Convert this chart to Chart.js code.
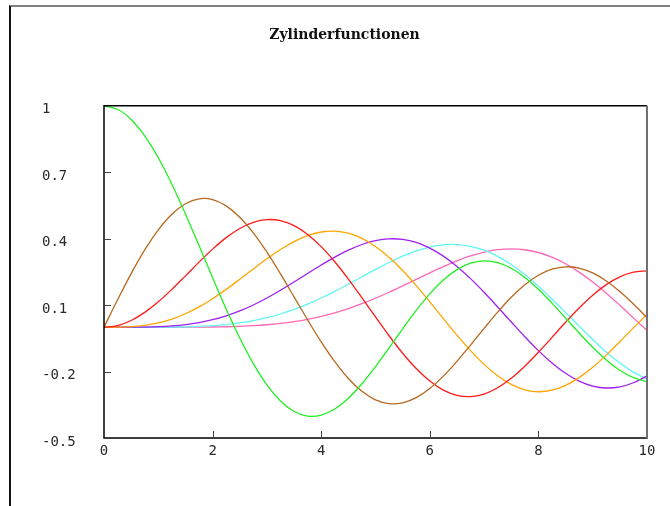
<!DOCTYPE html>
<html>
<head>
<meta charset="utf-8">
<script src="https://cdn.jsdelivr.net/npm/chart.js@4/dist/chart.umd.min.js"></script>
<style>
  html, body { margin: 0; padding: 0; background: #fff; }
  #wrap { position: relative; width: 670px; height: 506px; }
  #frame {
    position: absolute; left: 9px; top: 5px; right: 0; bottom: 0;
    border-top: 2px solid #808080; border-left: 2px solid #111;
    pointer-events: none;
  }
</style>
</head>
<body>
<div id="wrap">
  <canvas id="myChart" width="670" height="506"></canvas>
  <div id="frame"></div>
</div>
<script>
// x positions (step 0.25)
const xs = [0, 0.25, 0.5, 0.75, 1, 1.25, 1.5, 1.75, 2, 2.25, 2.5, 2.75, 3, 3.25, 3.5, 3.75, 4, 4.25, 4.5, 4.75, 5,
  5.25, 5.5, 5.75, 6, 6.25, 6.5, 6.75, 7, 7.25, 7.5, 7.75, 8, 8.25, 8.5, 8.75, 9, 9.25, 9.5, 9.75, 10];

// one series per cylinder function, order 0..6
const j0 = [1.0, 0.9844, 0.9385, 0.8642, 0.7652, 0.6459, 0.5118, 0.3690, 0.2239, 0.0828, -0.0484, -0.1641, -0.2601, -0.3327,
  -0.3801, -0.4013, -0.3971, -0.3691, -0.3205, -0.2551, -0.1776, -0.0931, -0.0068, 0.0759, 0.1506, 0.2130, 0.2601, 0.2894,
  0.3001, 0.2919, 0.2663, 0.2252, 0.1717, 0.1092, 0.0419, -0.0259, -0.0903, -0.1474, -0.1939, -0.2273, -0.2459];
const j1 = [0, 0.1240, 0.2423, 0.3493, 0.4401, 0.5106, 0.5579, 0.5801, 0.5767, 0.5483, 0.4971, 0.4260, 0.3391, 0.2411,
  0.1374, 0.0333, -0.0660, -0.1555, -0.2311, -0.2892, -0.3276, -0.3450, -0.3414, -0.3179, -0.2767, -0.2207, -0.1538, -0.0803,
  -0.0047, 0.0685, 0.1352, 0.1915, 0.2346, 0.2621, 0.2731, 0.2672, 0.2453, 0.2091, 0.1613, 0.1049, 0.0435];
const j2 = [0, 0.0078, 0.0306, 0.0671, 0.1149, 0.1711, 0.2321, 0.2940, 0.3528, 0.4047, 0.4461, 0.4740, 0.4862, 0.4811,
  0.4586, 0.4191, 0.3641, 0.2959, 0.2178, 0.1333, 0.0466, -0.0383, -0.1173, -0.1865, -0.2429, -0.2837, -0.3074, -0.3132,
  -0.3014, -0.2731, -0.2303, -0.1758, -0.1130, -0.0456, 0.0224, 0.0870, 0.1448, 0.1926, 0.2279, 0.2488, 0.2546];
const j3 = [0, 0.0003, 0.0026, 0.0085, 0.0196, 0.0369, 0.0610, 0.0919, 0.1289, 0.1711, 0.2167, 0.2635, 0.3091, 0.3511,
  0.3868, 0.4139, 0.4302, 0.4341, 0.4247, 0.4014, 0.3648, 0.3157, 0.2561, 0.1882, 0.1148, 0.0391, -0.0354, -0.1053,
  -0.1675, -0.2192, -0.2580, -0.2823, -0.2911, -0.2843, -0.2626, -0.2274, -0.1809, -0.1258, -0.0653, -0.0028, 0.0583];
const j4 = [0, 0.0000, 0.0002, 0.0008, 0.0025, 0.0059, 0.0118, 0.0209, 0.0340, 0.0516, 0.0738, 0.1007, 0.1320, 0.1669,
  0.2044, 0.2430, 0.2811, 0.3169, 0.3484, 0.3737, 0.3912, 0.3992, 0.3967, 0.3829, 0.3576, 0.3212, 0.2747, 0.2196,
  0.1578, 0.0917, 0.0239, -0.0428, -0.1054, -0.1612, -0.2078, -0.2430, -0.2654, -0.2742, -0.2691, -0.2505, -0.2196];
const j5 = [0, 0.0000, 0.0000, 0.0001, 0.0002, 0.0007, 0.0018, 0.0037, 0.0070, 0.0121, 0.0195, 0.0297, 0.0430, 0.0599,
  0.0804, 0.1046, 0.1321, 0.1624, 0.1947, 0.2280, 0.2611, 0.2926, 0.3209, 0.3446, 0.3621, 0.3721, 0.3735, 0.3656,
  0.3479, 0.3204, 0.2835, 0.2382, 0.1858, 0.1280, 0.0670, 0.0052, -0.0550, -0.1113, -0.1613, -0.2028, -0.2341];
const j6 = [0, 0.0000, 0.0000, 0.0000, 0.0000, 0.0001, 0.0002, 0.0006, 0.0012, 0.0023, 0.0042, 0.0071, 0.0114, 0.0174,
  0.0254, 0.0359, 0.0491, 0.0652, 0.0843, 0.1063, 0.1310, 0.1581, 0.1868, 0.2164, 0.2458, 0.2741, 0.2999, 0.3220,
  0.3392, 0.3502, 0.3541, 0.3501, 0.3376, 0.3163, 0.2866, 0.2489, 0.2043, 0.1539, 0.0993, 0.0425, -0.0145];

const seriesNames = ['J0', 'J1', 'J2', 'J3', 'J4', 'J5', 'J6'];
const seriesData = [j0, j1, j2, j3, j4, j5, j6];
const seriesColors = ['#22f022', '#b8681e', '#ff1a1a', '#ffa500', '#a020f0', '#5ef5f5', '#ff69b4'];

// tick labels
const xTicks = [0, 2, 4, 6, 8, 10];
const yTicks = [-0.5, -0.2, 0.1, 0.4, 0.7, 1];
const yTickLabels = ['-0.5', '-0.2', '0.1', '0.4', '0.7', '1'];

const tickFont = { family: 'DejaVu Sans Mono', size: 14 };

// box round the plot plus the small inward ticks
const boxPlugin = {
  id: 'box',
  afterDraw(chart) {
    const { ctx, chartArea: a, scales } = chart;
    ctx.save();
    ctx.lineWidth = 1.5;
    ctx.strokeStyle = '#000';
    ctx.beginPath();
    ctx.moveTo(a.right, a.top);
    ctx.lineTo(a.left, a.top);
    ctx.lineTo(a.left, a.bottom);
    ctx.lineTo(a.right, a.bottom);
    ctx.stroke();
    ctx.lineWidth = 2;
    ctx.strokeStyle = '#707070';
    ctx.beginPath();
    ctx.moveTo(a.right, a.top);
    ctx.lineTo(a.right, a.bottom + 1);
    ctx.stroke();

    ctx.lineWidth = 1;
    ctx.strokeStyle = '#444';
    ctx.beginPath();
    scales.y.ticks.forEach(t => {
      if (t.value <= yTicks[0] || t.value >= yTicks[yTicks.length - 1]) return;
      const y = Math.round(scales.y.getPixelForValue(t.value)) + 0.5;
      ctx.moveTo(a.left, y);
      ctx.lineTo(a.left + 7, y);
    });
    scales.x.ticks.forEach(t => {
      if (t.value <= xTicks[0] || t.value >= xTicks[xTicks.length - 1]) return;
      const x = Math.round(scales.x.getPixelForValue(t.value)) + 0.5;
      ctx.moveTo(x, a.bottom);
      ctx.lineTo(x, a.bottom - 7);
    });
    ctx.stroke();
    ctx.restore();
  }
};

const ctx = document.getElementById('myChart');

new Chart(ctx, {
  type: 'line',
  data: {
    datasets: seriesData.map((d, i) => ({
      label: seriesNames[i],
      data: xs.map((x, k) => ({ x: x, y: d[k] })),
      borderColor: seriesColors[i],
      borderWidth: 1.3,
      pointRadius: 0,
      tension: 0.35,
      fill: false
    }))
  },
  options: {
    responsive: false,
    animation: false,
    layout: { padding: { left: 42, right: 23, top: 0, bottom: 0 } },
    plugins: {
      legend: { display: false },
      tooltip: { enabled: false },
      title: {
        display: true,
        text: 'Zylinderfunctionen',
        color: '#111',
        font: { family: 'DejaVu Serif', size: 14, weight: 'bold' },
        padding: { top: 27, bottom: 62 }
      }
    },
    scales: {
      x: {
        type: 'linear',
        min: 0,
        max: 10,
        afterBuildTicks: s => { s.ticks = xTicks.map(v => ({ value: v })); },
        afterFit: s => { s.height = 68; },
        grid: { display: false, drawTicks: false },
        border: { display: false },
        ticks: {
          color: '#2a2a2a',
          font: tickFont,
          padding: 5,
          maxRotation: 0,
          callback: v => String(v)
        }
      },
      y: {
        type: 'linear',
        min: -0.5,
        max: 1,
        afterBuildTicks: s => { s.ticks = yTicks.map(v => ({ value: v })); },
        afterFit: s => { s.width = 62; },
        grid: { display: false, drawTicks: false },
        border: { display: false },
        ticks: {
          color: '#2a2a2a',
          font: tickFont,
          crossAlign: 'far',
          labelOffset: 4,
          callback: v => yTickLabels[yTicks.indexOf(v)]
        }
      }
    }
  },
  plugins: [boxPlugin]
});
</script>
</body>
</html>
